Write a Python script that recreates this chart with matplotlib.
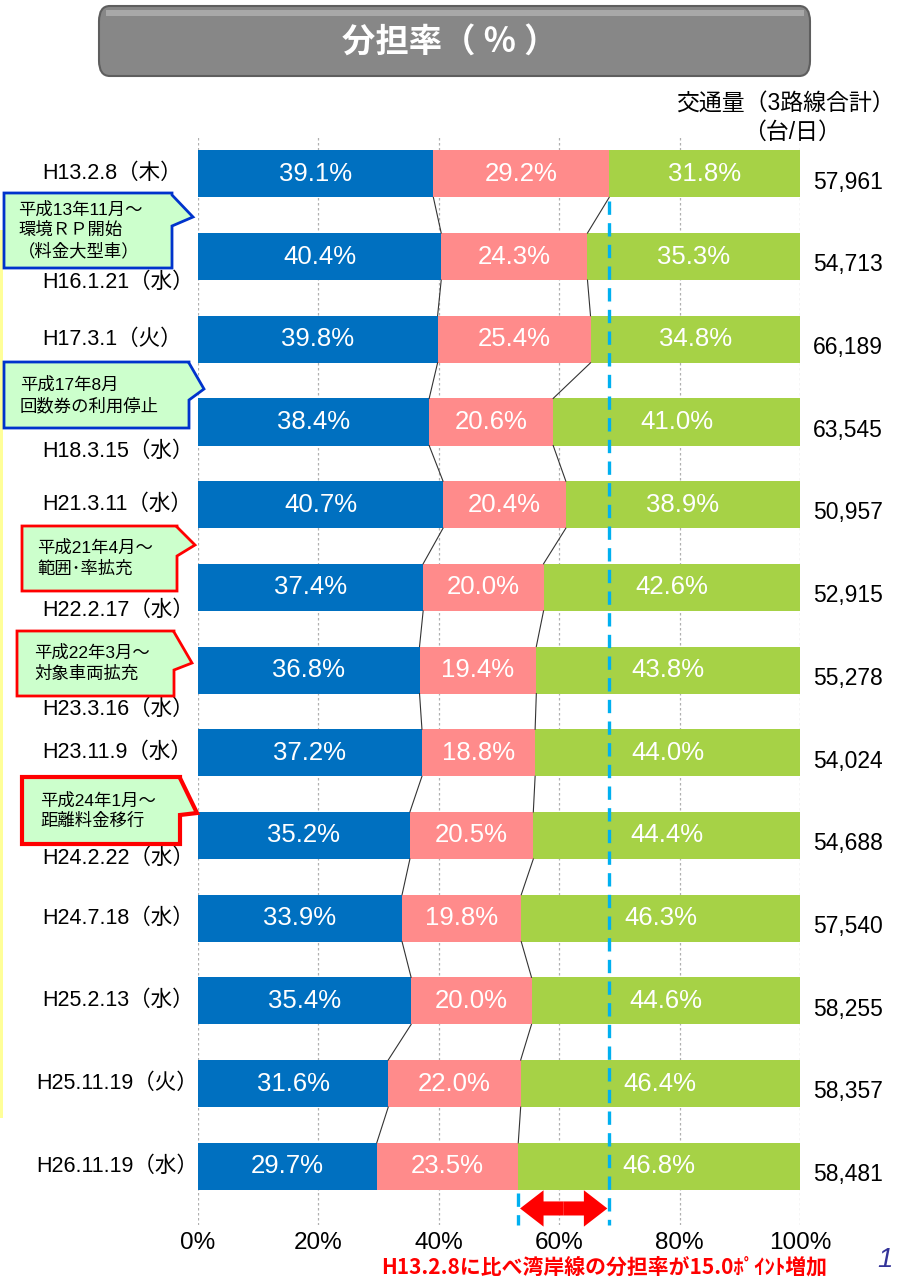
import matplotlib
matplotlib.use('Agg')
import matplotlib.pyplot as plt
import matplotlib.patches as mpatches

# 調査日
dates = ['H13.2.8（木）', 'H16.1.21（水）', 'H17.3.1（火）', 'H18.3.15（水）',
         'H21.3.11（水）', 'H22.2.17（水）', 'H23.3.16（水）', 'H23.11.9（水）',
         'H24.2.22（水）', 'H24.7.18（水）', 'H25.2.13（水）', 'H25.11.19（火）',
         'H26.11.19（水）']
# 分担率 (%)
share_blue = [39.1, 40.4, 39.8, 38.4, 40.7, 37.4, 36.8, 37.2, 35.2, 33.9, 35.4, 31.6, 29.7]
share_pink = [29.2, 24.3, 25.4, 20.6, 20.4, 20.0, 19.4, 18.8, 20.5, 19.8, 20.0, 22.0, 23.5]
share_green = [31.8, 35.3, 34.8, 41.0, 38.9, 42.6, 43.8, 44.0, 44.4, 46.3, 44.6, 46.4, 46.8]
# 交通量（3路線合計）(台/日)
volumes = [57961, 54713, 66189, 63545, 50957, 52915, 55278, 54024, 54688, 57540, 58255, 58357, 58481]
xticks = [0, 20, 40, 60, 80, 100]

# layout only: vertical shift of some date labels (below their bar), left edge overrides
label_shift = {1: 0.31, 3: 0.36, 5: 0.28, 6: 0.47, 8: 0.28}
label_left = {11: 36, 12: 36}

C_BLUE = '#0070C0'
C_PINK = '#FF8B8B'
C_GREEN = '#A6D246'
C_CYAN = '#00B0F0'
FONT = ['Liberation Sans', 'Noto Sans CJK JP']
plt.rcParams['font.family'] = FONT

W, H = 903, 1281
fig = plt.figure(figsize=(W / 100, H / 100), dpi=100)


def fx(px):
    return px / W


def fy(py):
    return 1 - py / H


AX_L, AX_R = 198, 800
ax = fig.add_axes([fx(AX_L), fy(1225), fx(AX_R) - fx(AX_L), fy(135) - fy(1225)])
n = len(dates)
ys = list(range(n))
bh = 0.57

left_pink = list(share_blue)
left_green = [b + p for b, p in zip(share_blue, share_pink)]

ax.barh(ys, share_blue, height=bh, color=C_BLUE, zorder=2)
ax.barh(ys, share_pink, left=left_pink, height=bh, color=C_PINK, zorder=2)
ax.barh(ys, share_green, left=left_green, height=bh, color=C_GREEN, zorder=2)

for i in ys:
    for val, start in ((share_blue[i], 0), (share_pink[i], left_pink[i]), (share_green[i], left_green[i])):
        ax.text(start + val / 2, i, f'{val:.1f}%', color='white', fontsize=18.5,
                ha='center', va='center', zorder=4)

# connector lines between bars
for i in range(n - 1):
    for arr in (left_pink, left_green):
        ax.plot([arr[i], arr[i + 1]], [i + bh / 2, i + 1 - bh / 2], color='#333333',
                lw=0.8, zorder=3)

ax.set_xlim(0, 100)
ax.set_ylim(n - 1 + 0.71, -0.47)
ax.set_xticks(xticks)
ax.set_xticklabels([f'{t}%' for t in xticks], fontsize=17.5)
ax.tick_params(axis='x', length=0, pad=5)
ax.set_yticks([])
for s in ax.spines.values():
    s.set_visible(False)
for t in xticks:
    ax.axvline(t, color='#b0b0b0', lw=0.9, ls=(0, (2, 2)), zorder=1)


def ax_x(px):
    # pixel x -> axes fraction
    return (px - AX_L) / (AX_R - AX_L)


# date labels
for i, d in enumerate(dates):
    ax.text(ax_x(label_left.get(i, 42)), i + label_shift.get(i, 0.0), d,
            transform=ax.get_yaxis_transform(), fontsize=15.5, ha='left', va='center')

# traffic volume
for i, v in enumerate(volumes):
    ax.text(ax_x(848), i + 0.1, f'{v:,}', transform=ax.get_yaxis_transform(),
            fontsize=16.5, ha='center', va='center')

# dashed reference lines
ref_top = left_green[0]
ref_bot = left_green[-1]
ax.plot([ref_top, ref_top], [bh / 2 + 0.04, n - 1 + 0.71], color=C_CYAN, lw=2.4,
        ls=(0, (4, 2.5)), zorder=5, clip_on=False)
ax.plot([ref_bot, ref_bot], [n - 1 + bh / 2 + 0.04, n - 1 + 0.71], color=C_CYAN, lw=2.4,
        ls=(0, (4, 2.5)), zorder=5, clip_on=False)

# red double arrow
ay = n - 1 + 0.51
mid = (ref_top + ref_bot) / 2
half = (ref_top - ref_bot) / 2 - 0.3
for sign in (1, -1):
    ax.add_patch(mpatches.FancyArrow(mid, ay, sign * half, 0, width=0.17, head_width=0.44,
                                     head_length=3.9, length_includes_head=True,
                                     color='#FF0000', lw=0, zorder=6, clip_on=False))

# header of volume column
fig.text(fx(785), fy(103), '交通量（3路線合計）', fontsize=16.5, ha='center', va='center')
fig.text(fx(792), fy(132), '（台/日）', fontsize=16.5, ha='center', va='center')

# title box
tb = mpatches.FancyBboxPatch((fx(99), fy(76)), fx(810) - fx(99), fy(6) - fy(76),
                             boxstyle='round,pad=0,rounding_size=0.012',
                             transform=fig.transFigure, facecolor='#878787',
                             edgecolor='#5e5e5e', lw=1.5, zorder=1)
fig.patches.append(tb)
fig.patches.append(mpatches.Rectangle((fx(106), fy(16)), fx(804) - fx(106), fy(10) - fy(16),
                                      transform=fig.transFigure, facecolor='#a8a8a8',
                                      edgecolor='none', zorder=2))
fig.text(fx(450), fy(43), '分担率（ ％ ）', fontsize=24, fontweight='bold', color='white',
         ha='center', va='center', family=['Noto Sans CJK JP'])

# left yellow stripe
fig.patches.append(mpatches.Rectangle((0, fy(1118)), fx(3), fy(230) - fy(1118),
                                      transform=fig.transFigure, facecolor='#FFFF99',
                                      edgecolor='none'))

# callouts: box (x0, y0, x1, y1), pointer start/end y on right edge, tip, edge colour, width, text x
callouts = [
    ('平成13年11月～\n環境ＲＰ開始\n（料金大型車）', (4, 193, 172, 268), (195, 226), (193, 217), '#0033CC', 2.0, 18),
    ('平成17年8月\n回数券の利用停止', (4, 362, 189, 428), (363, 400), (204, 389), '#0033CC', 2.0, 20),
    ('平成21年4月～\n範囲･率拡充', (22, 526, 177, 591), (527, 556), (195, 545), '#FF0000', 2.0, 37),
    ('平成22年3月～\n対象車両拡充', (17, 631, 174, 696), (632, 670), (192, 663), '#FF0000', 2.0, 34),
    ('平成24年1月～\n距離料金移行', (22, 777, 180, 844), (778, 815), (197, 813), '#FF0000', 3.0, 40),
]
for text, (x0, y0, x1, y1), (p0, p1), (tx, ty), ec, lw, tx0 in callouts:
    pts = [(x0, y0), (x1, y0), (x1, p0), (tx, ty), (x1, p1), (x1, y1), (x0, y1)]
    poly = mpatches.Polygon([(fx(a), fy(b)) for a, b in pts], closed=True,
                            transform=fig.transFigure, facecolor='#CCFFCC',
                            edgecolor=ec, lw=lw, joinstyle='miter', zorder=3)
    fig.patches.append(poly)
    fig.text(fx(tx0), fy((y0 + y1) / 2), text, fontsize=12.5, ha='left', va='center',
             linespacing=1.35, zorder=4)

# bottom note
fig.text(fx(604), fy(1267), 'H13.2.8に比べ湾岸線の分担率が15.0ﾎﾟｲﾝﾄ増加', fontsize=15,
         fontweight='bold', color='#FF0000', ha='center', va='center',
         family=['Noto Sans CJK JP'])
fig.text(fx(885), fy(1260), '1', fontsize=20, style='italic', color='#333399',
         ha='center', va='center')

fig.savefig('out.png', dpi=100)
